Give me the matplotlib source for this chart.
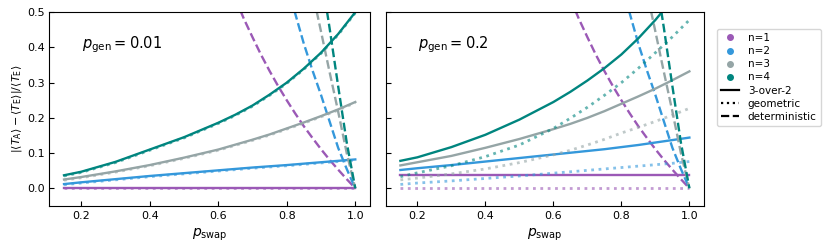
import matplotlib
matplotlib.use('Agg')
import matplotlib.pyplot as plt
from matplotlib.lines import Line2D

# swap probability grid
P = [0.15, 0.2, 0.3, 0.4, 0.5, 0.6, 0.65, 0.7, 0.75, 0.8, 0.85, 0.9, 0.95, 1.0]

# p_gen = 0.01
solid1 = {1: [0] * 14,
          2: [0.012, 0.017, 0.026, 0.035, 0.043, 0.051, 0.055, 0.059, 0.0625, 0.066, 0.070, 0.074, 0.078, 0.082],
          3: [0.025, 0.032, 0.048, 0.066, 0.087, 0.110, 0.124, 0.138, 0.153, 0.170, 0.187, 0.205, 0.224, 0.245],
          4: [0.037, 0.047, 0.075, 0.110, 0.145, 0.186, 0.209, 0.235, 0.266, 0.300, 0.340, 0.385, 0.438, 0.500]}
geom1 = {1: [0] * 14,
         2: [0.010, 0.015, 0.024, 0.033, 0.041, 0.049, 0.053, 0.057, 0.0605, 0.064, 0.068, 0.072, 0.076, 0.080],
         3: [0.023, 0.030, 0.046, 0.064, 0.085, 0.108, 0.122, 0.136, 0.151, 0.168, 0.185, 0.203, 0.222, 0.243],
         4: [0.035, 0.045, 0.073, 0.108, 0.143, 0.184, 0.207, 0.233, 0.264, 0.298, 0.338, 0.383, 0.436, 0.498]}

# p_gen = 0.2
solid2 = {1: [0.038] * 14,
          2: [0.052, 0.057, 0.066, 0.076, 0.086, 0.096, 0.101, 0.106, 0.111, 0.117, 0.123, 0.130, 0.137, 0.144],
          3: [0.065, 0.074, 0.092, 0.115, 0.140, 0.168, 0.183, 0.200, 0.219, 0.240, 0.261, 0.283, 0.307, 0.332],
          4: [0.078, 0.088, 0.117, 0.152, 0.195, 0.245, 0.274, 0.306, 0.341, 0.380, 0.426, 0.478, 0.536, 0.600]}
geom2 = {1: [0] * 14,
         2: [0.011, 0.015, 0.021, 0.028, 0.035, 0.043, 0.047, 0.051, 0.055, 0.059, 0.063, 0.067, 0.071, 0.076],
         3: [0.024, 0.029, 0.041, 0.055, 0.073, 0.095, 0.108, 0.123, 0.139, 0.157, 0.173, 0.190, 0.208, 0.227],
         4: [0.033, 0.044, 0.064, 0.090, 0.123, 0.170, 0.199, 0.230, 0.264, 0.300, 0.341, 0.385, 0.430, 0.478]}

# deterministic (same in both panels)
det_p = {1: [0.65, 0.675, 0.7, 0.725, 0.75, 0.775, 0.8, 0.825, 0.85, 0.875, 0.9, 0.925, 0.95, 0.975, 1.0],
         2: [0.8, 0.825, 0.85, 0.875, 0.9, 0.925, 0.95, 0.975, 1.0],
         3: [0.86, 0.88, 0.9, 0.925, 0.95, 0.975, 1.0],
         4: [0.9, 0.925, 0.95, 0.975, 1.0]}
det_v = {1: [0.538, 0.481, 0.429, 0.379, 0.333, 0.29, 0.25, 0.212, 0.176, 0.143, 0.111, 0.081, 0.053, 0.026, 0.0],
         2: [0.59, 0.495, 0.41, 0.335, 0.265, 0.19, 0.115, 0.055, 0.0],
         3: [0.63, 0.535, 0.445, 0.33, 0.218, 0.10, 0.0],
         4: [0.61, 0.455, 0.29, 0.13, 0.0]}

colors = {1: '#9b59b6', 2: '#3498db', 3: '#95a5a6', 4: '#00857f'}
pgens = ['0.01', '0.2']

fig = plt.figure(figsize=(8.3, 2.49), dpi=100)
ax1 = fig.add_axes([0.0596, 0.173, 0.386, 0.778])
ax2 = fig.add_axes([0.465, 0.173, 0.383, 0.778])

for ax, sol, geo, pg in [(ax1, solid1, geom1, pgens[0]), (ax2, solid2, geom2, pgens[1])]:
    for n in [1, 2, 3, 4]:
        c = colors[n]
        ax.plot(P, geo[n], ':', color=c, lw=2, alpha=0.6)
        ax.plot(P, sol[n], '-', color=c, lw=1.7)
        ax.plot(det_p[n], det_v[n], '--', color=c, lw=1.7)
    ax.set_xlim(0.1075, 1.0425)
    ax.set_ylim(-0.05, 0.5)
    ax.set_xticks([0.2, 0.4, 0.6, 0.8, 1.0])
    ax.set_yticks([0.0, 0.1, 0.2, 0.3, 0.4, 0.5])
    ax.tick_params(direction='in', labelsize=8)
    ax.set_xlabel(r'$p_{\rm swap}$', fontsize=10)
    ax.text(0.1, 0.83, r'$p_{\rm gen} = %s$' % pg, transform=ax.transAxes,
            fontsize=10.5, va='center')

ax2.tick_params(labelleft=False)
ax1.set_ylabel(r'$|\langle T_{\rm A}\rangle - \langle T_{\rm E}\rangle| / \langle T_{\rm E}\rangle$',
               fontsize=8, labelpad=2)

handles = [Line2D([], [], marker='o', ls='none', color=colors[n], markersize=4, label='n=%d' % n)
           for n in [1, 2, 3, 4]]
handles += [Line2D([], [], ls='-', color='k', lw=1.6, label='3-over-2'),
            Line2D([], [], ls=':', color='k', lw=1.6, label='geometric'),
            Line2D([], [], ls='--', color='k', lw=1.6, label='deterministic')]
fig.legend(handles=handles, loc='upper left', bbox_to_anchor=(0.857, 0.905),
           fontsize=7.5, handlelength=1.8, labelspacing=0.3, borderpad=0.4)

fig.savefig('out.png', dpi=100)
